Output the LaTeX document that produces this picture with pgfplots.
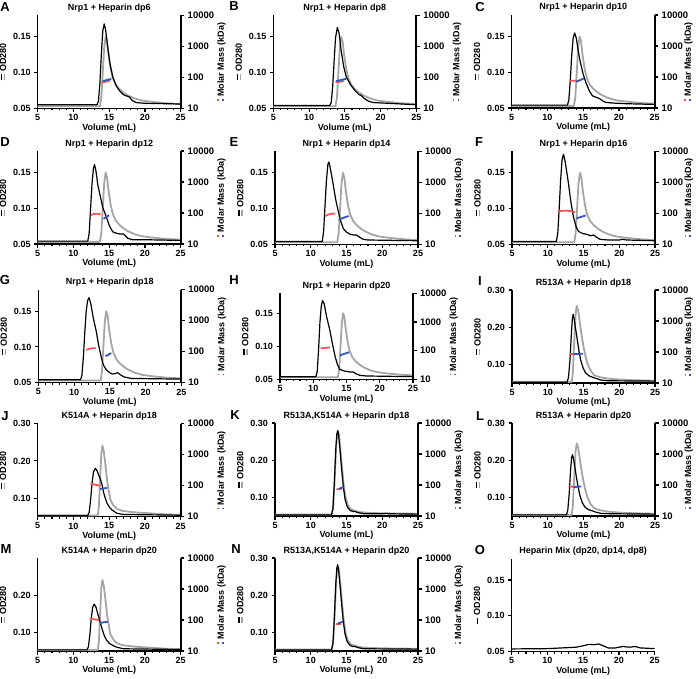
\documentclass[border=0pt]{standalone}
\usepackage{pgfplots}
\usepackage{pgfplotstable}
\pgfplotsset{compat=1.18}
\usepackage{fontspec}
\setmainfont{Liberation Sans}
\definecolor{mygray}{RGB}{165,165,165}
\definecolor{myred}{RGB}{240,85,85}
\definecolor{myblue}{RGB}{55,85,185}
\newcommand{\odsym}{\rlap{\raisebox{3.8pt}{\rule{6pt}{1.2pt}}}\raisebox{0.8pt}{\textcolor{mygray}{\rule{6pt}{1.2pt}}}}
\newcommand{\odsymO}{\raisebox{2.3pt}{\rule{6pt}{1.2pt}}}
\newcommand{\mmsym}{\rlap{\raisebox{5pt}{\textcolor{myred}{\rule{1.6pt}{1.6pt}}}}\raisebox{0.3pt}{\textcolor{myblue}{\rule{1.6pt}{1.6pt}}}}
\pgfplotsset{
  base/.style={scale only axis, anchor=south west, width=143pt, height=93pt, xmin=5, xmax=25,
     axis line style={line width=1.5pt}, tick align=outside, major tick length=3.5pt, minor tick length=2pt,
     every tick/.style={black, line width=1.1pt},
     tick label style={font=\bfseries\fontsize{9}{10}\selectfont},
     /pgf/number format/assume math mode=true,
     label style={font=\bfseries\fontsize{9}{10}\selectfont}},
  lefty/.style={base, axis x line*=bottom, axis y line*=left, xtick={5,10,15,20,25}, minor x tick num=4,
     xlabel={Volume (mL)}, ylabel={\odsym\ OD280},
     x tick label style={yshift=1pt},
     xlabel style={yshift=4pt},
     title style={font=\bfseries\fontsize{9}{10}\selectfont, at={(0.5,1)}, anchor=base, yshift=-1pt},
     ymin=0.05, ymax=0.18, ytick={0.05,0.10,0.15}, yticklabels={0.05,0.10,0.15}},
  lefty2/.style={lefty, ymin=0.05, ymax=0.30, ytick={0.1,0.2,0.3}, yticklabels={0.10,0.20,0.30}},
  righty/.style={base, axis x line=none, axis y line*=right, ymin=10, ymax=10000,
     ytick={10,100,1000,10000}, yticklabels={10,100,1000,10000}, yminorticks=false,
     y tick label style={font=\bfseries\fontsize{9.5}{10}\selectfont},
     ylabel={\mmsym\ Molar Mass (kDa)}, ylabel style={at={(rel axis cs:1,0.5)}, anchor=north, yshift=-33pt},
     axis line style={line width=2pt}},
  rightc/.style={righty, ylabel style={yshift=7pt}},
  gcurve/.style={mygray, line width=1.8pt, line join=round},
  bcurve/.style={black, line width=1.2pt, line join=round},
  rpts/.style={myred, line width=1.8pt},
  bpts/.style={myblue, line width=1.8pt},
}
\pgfplotstableread{
x y
5 0.053
13.7 0.053
13.9 0.065
14.1 0.100
14.3 0.135
14.5 0.150
14.7 0.143
14.9 0.125
15.2 0.105
15.5 0.092
15.9 0.083
16.4 0.077
17.0 0.072
17.6 0.068
18.5 0.064
19.5 0.061
21 0.059
23 0.057
25 0.056
}\grayNrp
\pgfplotstableread{
x y
5 0.053
13.35 0.053
13.5 0.075
13.7 0.160
13.9 0.235
14.05 0.257
14.25 0.245
14.5 0.210
14.85 0.164
15.2 0.128
15.55 0.102
16.0 0.083
16.5 0.071
17.2 0.066
18.35 0.062
19.5 0.060
21.2 0.058
23 0.057
25 0.056
}\grayR
\pgfplotstableread{
x y
5 0.053
13.4 0.053
13.55 0.075
13.75 0.160
13.9 0.220
14.05 0.241
14.25 0.225
14.5 0.185
14.7 0.148
14.95 0.118
15.15 0.096
15.6 0.080
16.1 0.071
16.8 0.066
17.5 0.064
19 0.061
20.8 0.059
23 0.056
25 0.055
}\grayK
\pgfplotstableread{
x y
5 0.054
12.95 0.054
13.15 0.075
13.35 0.150
13.55 0.235
13.7 0.270
13.82 0.278
13.95 0.268
14.15 0.230
14.35 0.185
14.6 0.135
14.85 0.100
15.2 0.078
15.6 0.068
16.2 0.064
17 0.060
18.5 0.058
21 0.057
25 0.056
}\grayRK
\begin{document}
\begin{tikzpicture}
\path[use as bounding box] (0,0) rectangle (696pt,-679pt);
% ---------------- A
\begin{axis}[lefty, at={(37.7pt,-108.3pt)}, title={Nrp1 + Heparin dp6}]
\addplot[gcurve] table {\grayNrp};
\addplot[bcurve] coordinates {(5,0.055) (13.3,0.055) (13.5,0.060) (13.7,0.085) (13.9,0.125) (14.1,0.158) (14.3,0.168) (14.5,0.160) (14.8,0.135) (15.1,0.113) (15.5,0.094) (16.0,0.081) (16.5,0.074) (17.0,0.069) (17.5,0.067) (17.8,0.066) (18.2,0.061) (18.8,0.058) (20,0.057) (25,0.056)};
\end{axis}
\begin{axis}[righty, ymode=log, at={(37.7pt,-108.3pt)}]
\addplot[rpts] coordinates {(13.9,68) (14.3,70) (14.7,74) (15.1,78)};
\addplot[bpts] coordinates {(14.1,75) (14.5,80) (14.9,85) (15.3,88)};
\end{axis}
% ---------------- B
\begin{axis}[lefty, at={(273.3pt,-108.3pt)}, title={Nrp1 + Heparin dp8}]
\addplot[gcurve] table {\grayNrp};
\addplot[bcurve] coordinates {(5,0.054) (12.9,0.054) (13.1,0.058) (13.3,0.080) (13.5,0.115) (13.7,0.148) (13.95,0.163) (14.2,0.155) (14.5,0.130) (14.85,0.108) (15.2,0.094) (15.8,0.083) (16.4,0.075) (17.0,0.069) (17.3,0.068) (17.7,0.064) (18.3,0.060) (19,0.058) (21,0.057) (25,0.055)};
\end{axis}
\begin{axis}[righty, ymode=log, at={(273.3pt,-108.3pt)}]
\addplot[rpts] coordinates {(13.7,70) (14.3,72) (14.9,75)};
\addplot[bpts] coordinates {(13.8,75) (14.5,82) (15.2,90)};
\end{axis}
% ---------------- C
\begin{axis}[lefty, at={(511.7pt,-108pt)}, title={Nrp1 + Heparin dp10}]
\addplot[gcurve] table {\grayNrp};
\addplot[bcurve] coordinates {(5,0.054) (12.8,0.054) (13.0,0.062) (13.2,0.090) (13.4,0.125) (13.6,0.148) (13.8,0.155) (14.05,0.147) (14.3,0.130) (14.6,0.114) (15.0,0.097) (15.4,0.085) (15.9,0.073) (16.3,0.067) (16.8,0.065) (17.3,0.063) (17.7,0.060) (18.1,0.058) (19,0.057) (21,0.056) (25,0.055)};
\end{axis}
\begin{axis}[rightc, ymode=log, at={(511.7pt,-108pt)}]
\addplot[rpts] coordinates {(13.1,75) (13.6,76) (14.2,75)};
\addplot[bpts] coordinates {(14.0,70) (14.5,78) (15.1,90)};
\end{axis}
% ---------------- D
\begin{axis}[lefty, at={(37.7pt,-244pt)}, title={Nrp1 + Heparin dp12}]
\addplot[gcurve] table {\grayNrp};
\addplot[bcurve] coordinates {(5,0.054) (12.0,0.054) (12.2,0.065) (12.4,0.100) (12.6,0.135) (12.8,0.156) (12.95,0.161) (13.15,0.152) (13.4,0.133) (13.75,0.117) (14.1,0.101) (14.6,0.088) (15.0,0.076) (15.5,0.067) (16.0,0.065) (16.5,0.064) (17.0,0.064) (17.3,0.061) (17.6,0.058) (18.2,0.056) (20,0.056) (25,0.055)};
\end{axis}
\begin{axis}[righty, ymode=log, at={(37.7pt,-244pt)}]
\addplot[rpts] coordinates {(12.4,85) (12.8,92) (13.2,95) (13.8,92)};
\addplot[bpts] coordinates {(14.2,65) (14.6,75) (15.0,85)};
\end{axis}
% ---------------- E
\begin{axis}[lefty, at={(275pt,-244.3pt)}, title={Nrp1 + Heparin dp14}]
\addplot[gcurve] table {\grayNrp};
\addplot[bcurve] coordinates {(5,0.054) (11.6,0.054) (11.8,0.068) (12.0,0.105) (12.2,0.140) (12.4,0.162) (12.55,0.165) (12.8,0.153) (13.15,0.133) (13.5,0.112) (13.85,0.096) (14.2,0.082) (14.55,0.072) (15.0,0.067) (15.5,0.064) (16.0,0.063) (16.4,0.063) (16.8,0.060) (17.35,0.057) (18,0.056) (25,0.055)};
\end{axis}
\begin{axis}[righty, ymode=log, at={(275pt,-244.3pt)}]
\addplot[rpts] coordinates {(12.0,82) (12.5,92) (13.0,97) (13.4,98)};
\addplot[bpts] coordinates {(13.9,62) (14.6,72) (15.3,82)};
\end{axis}
% ---------------- F
\begin{axis}[lefty, at={(512pt,-244.3pt)}, title={Nrp1 + Heparin dp16}]
\addplot[gcurve] table {\grayNrp};
\addplot[bcurve] coordinates {(5,0.054) (11.2,0.054) (11.4,0.065) (11.6,0.100) (11.8,0.140) (12.0,0.168) (12.2,0.176) (12.45,0.165) (12.9,0.135) (13.25,0.108) (13.6,0.088) (13.95,0.075) (14.3,0.068) (14.9,0.065) (15.45,0.064) (16.0,0.062) (16.4,0.063) (16.8,0.060) (17.3,0.057) (18.5,0.056) (20,0.056) (20.5,0.057) (21,0.056) (25,0.055)};
\end{axis}
\begin{axis}[rightc, ymode=log, at={(512pt,-244.3pt)}]
\addplot[rpts] coordinates {(11.4,115) (12.0,120) (12.6,122) (13.2,118) (13.8,110)};
\addplot[bpts] coordinates {(14.0,68) (14.6,76) (15.3,85)};
\end{axis}
% ---------------- G
\begin{axis}[lefty, at={(38.3pt,-382.7pt)}, title={Nrp1 + Heparin dp18}]
\addplot[gcurve] table {\grayNrp};
\addplot[bcurve] coordinates {(5,0.054) (10.9,0.054) (11.1,0.060) (11.3,0.085) (11.5,0.120) (11.7,0.150) (11.9,0.165) (12.1,0.169) (12.35,0.160) (12.7,0.140) (13.1,0.122) (13.45,0.102) (13.8,0.086) (14.1,0.075) (14.5,0.068) (15.0,0.064) (15.35,0.062) (15.8,0.063) (16.1,0.064) (16.5,0.061) (17.0,0.058) (18,0.056) (25,0.055)};
\end{axis}
\begin{axis}[righty, ymode=log, at={(38.3pt,-382.7pt)}]
\addplot[rpts] coordinates {(11.7,115) (12.2,125) (12.7,130) (13.1,130)};
\addplot[bpts] coordinates {(14.4,72) (14.8,80) (15.2,90)};
\end{axis}
% ---------------- H
\begin{axis}[lefty, width=133pt, height=86pt, at={(280pt,-379.3pt)}, title={Nrp1 + Heparin dp20}]
\addplot[gcurve] table {\grayNrp};
\addplot[bcurve] coordinates {(5,0.054) (10.4,0.054) (10.6,0.062) (10.8,0.095) (11.0,0.135) (11.2,0.160) (11.4,0.169) (11.65,0.164) (12.0,0.145) (12.5,0.124) (12.9,0.103) (13.3,0.084) (13.65,0.072) (14.0,0.065) (14.5,0.063) (15.0,0.062) (15.5,0.061) (16.0,0.061) (16.5,0.058) (17.0,0.056) (18,0.055) (25,0.054)};
\end{axis}
\begin{axis}[righty, ymode=log, width=133pt, height=86pt, at={(280pt,-379.3pt)}]
\addplot[rpts] coordinates {(11.1,120) (11.8,125) (12.5,130)};
\addplot[bpts] coordinates {(14.0,68) (14.7,78) (15.4,88)};
\end{axis}
% ---------------- I
\begin{axis}[lefty2, at={(512pt,-383pt)}, title={R513A + Heparin dp18}]
\addplot[gcurve] table {\grayR};
\addplot[bcurve] coordinates {(5,0.052) (12.7,0.052) (12.9,0.065) (13.1,0.110) (13.3,0.180) (13.45,0.225) (13.55,0.235) (13.7,0.222) (13.9,0.195) (14.1,0.170) (14.35,0.138) (14.6,0.112) (14.95,0.090) (15.3,0.077) (15.8,0.069) (16.2,0.066) (16.8,0.062) (17.4,0.058) (18.5,0.056) (25,0.055)};
\end{axis}
\begin{axis}[rightc, ymode=log, at={(512pt,-383pt)}]
\addplot[rpts] coordinates {(13.1,88) (13.5,88) (13.9,88)};
\addplot[bpts] coordinates {(13.6,85) (14.2,87) (14.9,88)};
\end{axis}
% ---------------- J
\begin{axis}[lefty2, at={(37.7pt,-516.7pt)}, title={K514A + Heparin dp18}]
\addplot[gcurve] table {\grayK};
\addplot[bcurve] coordinates {(5,0.053) (12.0,0.053) (12.2,0.062) (12.4,0.095) (12.6,0.140) (12.8,0.170) (13.05,0.180) (13.3,0.174) (13.55,0.161) (13.75,0.152) (14.0,0.136) (14.2,0.116) (14.45,0.100) (14.7,0.086) (15.05,0.075) (15.4,0.068) (16.1,0.059) (17,0.056) (25,0.054)};
\end{axis}
\begin{axis}[righty, ymode=log, at={(37.7pt,-516.7pt)}]
\addplot[rpts] coordinates {(12.4,115) (13.0,108) (13.75,100)};
\addplot[bpts] coordinates {(13.7,78) (14.2,82) (14.7,85)};
\end{axis}
% ---------------- K
\begin{axis}[lefty2, at={(275pt,-516pt)}, title={R513A,K514A + Heparin dp18}]
\addplot[gcurve] table {\grayRK};
\addplot[bcurve] coordinates {(5,0.053) (12.9,0.053) (13.1,0.070) (13.3,0.140) (13.5,0.230) (13.65,0.270) (13.77,0.280) (13.9,0.268) (14.1,0.225) (14.3,0.180) (14.55,0.130) (14.8,0.095) (15.1,0.075) (15.5,0.065) (15.9,0.062) (16.2,0.062) (16.6,0.059) (17.5,0.056) (20,0.056) (20.5,0.057) (21,0.056) (25,0.055)};
\end{axis}
\begin{axis}[righty, ymode=log, at={(275pt,-516pt)}]
\addplot[rpts] coordinates {(13.6,72) (14.0,74) (14.3,75)};
\addplot[bpts] coordinates {(13.9,75) (14.25,80) (14.6,85)};
\end{axis}
% ---------------- L
\begin{axis}[lefty2, at={(512pt,-516pt)}, title={R513A + Heparin dp20}]
\addplot[gcurve] coordinates {(5,0.053) (13.35,0.053) (13.5,0.075) (13.7,0.155) (13.9,0.225) (14.05,0.245) (14.25,0.235) (14.5,0.200) (14.85,0.158) (15.2,0.124) (15.55,0.100) (16.0,0.082) (16.5,0.071) (17.2,0.066) (18.35,0.062) (19.5,0.060) (21.2,0.058) (23,0.057) (25,0.056)};
\addplot[bcurve] coordinates {(5,0.053) (12.6,0.053) (12.8,0.065) (13.0,0.110) (13.2,0.175) (13.35,0.208) (13.45,0.215) (13.6,0.205) (13.8,0.180) (14.0,0.155) (14.25,0.128) (14.5,0.105) (14.85,0.085) (15.2,0.074) (15.7,0.067) (16.2,0.064) (16.8,0.060) (17.5,0.057) (19,0.056) (25,0.055)};
\end{axis}
\begin{axis}[rightc, ymode=log, at={(512pt,-516pt)}]
\addplot[rpts] coordinates {(12.9,92) (13.4,88) (13.9,85)};
\addplot[bpts] coordinates {(13.6,85) (14.2,88) (14.7,90)};
\end{axis}
% ---------------- M
\begin{axis}[lefty2, ytick={0.1,0.2}, yticklabels={0.10,0.20}, at={(37.7pt,-651pt)}, title={K514A + Heparin dp20}]
\addplot[gcurve] table {\grayK};
\addplot[bcurve] coordinates {(5,0.053) (11.9,0.053) (12.1,0.062) (12.3,0.095) (12.5,0.140) (12.7,0.168) (12.9,0.176) (13.15,0.168) (13.4,0.150) (13.7,0.130) (14.0,0.110) (14.3,0.092) (14.6,0.080) (15.0,0.071) (15.5,0.065) (16.1,0.060) (17,0.056) (25,0.054)};
\end{axis}
\begin{axis}[righty, ymode=log, at={(37.7pt,-651pt)}]
\addplot[rpts] coordinates {(12.3,110) (12.9,105) (13.6,100)};
\addplot[bpts] coordinates {(13.7,80) (14.2,84) (14.8,88)};
\end{axis}
% ---------------- N
\begin{axis}[lefty2, at={(275pt,-651pt)}, title={R513A,K514A + Heparin dp20}]
\addplot[gcurve] table {\grayRK};
\addplot[bcurve] coordinates {(5,0.053) (12.9,0.053) (13.1,0.070) (13.3,0.140) (13.5,0.230) (13.65,0.272) (13.75,0.282) (13.88,0.270) (14.1,0.225) (14.3,0.180) (14.55,0.130) (14.8,0.095) (15.1,0.075) (15.5,0.065) (15.9,0.062) (16.2,0.062) (16.6,0.059) (17.5,0.056) (25,0.055)};
\end{axis}
\begin{axis}[righty, ymode=log, at={(275pt,-651pt)}]
\addplot[rpts] coordinates {(13.5,75) (13.85,75) (14.2,75)};
\addplot[bpts] coordinates {(13.8,78) (14.15,83) (14.5,88)};
\end{axis}
% ---------------- O
\begin{axis}[lefty, ylabel={\odsymO\ OD280}, at={(511.7pt,-651.5pt)}, title={Heparin Mix (dp20, dp14, dp8)}]
\addplot[bcurve] coordinates {(5,0.0536) (10,0.054) (12,0.055) (14,0.056) (15,0.058) (15.8,0.060) (16.5,0.0595) (17.2,0.0605) (17.8,0.058) (18.5,0.055) (19.5,0.055) (20.5,0.057) (21.5,0.056) (22.3,0.057) (23,0.055) (25,0.054)};
\end{axis}
% ---------------- panel letters
\tikzset{plab/.style={font=\bfseries\fontsize{13}{13}\selectfont}}
\node[plab] at (5pt,-7pt) {A};
\node[plab] at (234pt,-6pt) {B};
\node[plab] at (480pt,-7pt) {C};
\node[plab] at (5pt,-142pt) {D};
\node[plab] at (234pt,-142pt) {E};
\node[plab] at (479pt,-142pt) {F};
\node[plab] at (5pt,-280pt) {G};
\node[plab] at (234pt,-280pt) {H};
\node[plab] at (480pt,-281pt) {I};
\node[plab] at (5pt,-416pt) {J};
\node[plab] at (235pt,-415pt) {K};
\node[plab] at (480pt,-416pt) {L};
\node[plab] at (6pt,-549pt) {M};
\node[plab] at (236pt,-549pt) {N};
\node[plab] at (480pt,-550pt) {O};
\end{tikzpicture}
\end{document}
